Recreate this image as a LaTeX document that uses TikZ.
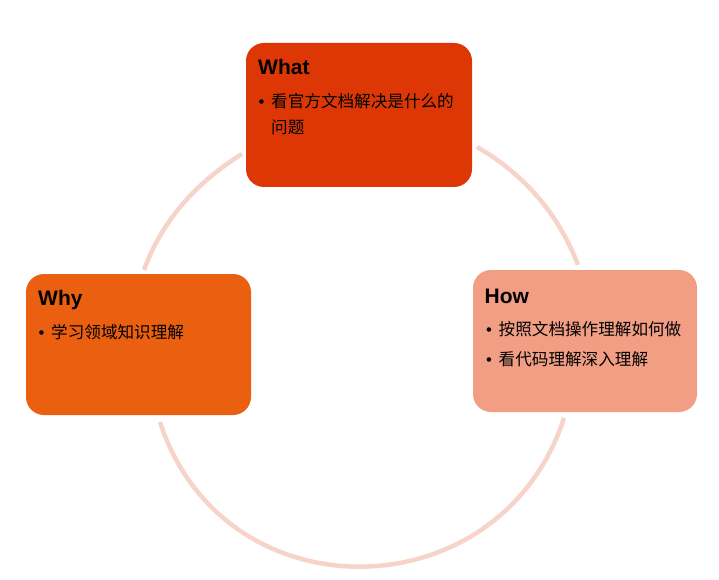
\documentclass[tikz,border=0pt]{standalone}
\usepackage{fontspec}
\setmainfont{Liberation Sans}
\newfontfamily\cjkfont{Noto Sans CJK SC}
\usepackage{enumitem}
\setlist[itemize]{label={\rmfamily\textbullet}, leftmargin=12.5pt, labelwidth=12.5pt,
  labelsep=0pt, align=left, topsep=0pt, partopsep=0pt, itemsep=5pt, parsep=0pt}

\definecolor{whatred}{RGB}{221,55,5}
\definecolor{whyorange}{RGB}{235,95,16}
\definecolor{howpeach}{RGB}{242,158,133}
\definecolor{ringpink}{RGB}{247,212,201}

\begin{document}
\begin{tikzpicture}
[x=1pt, y=1pt,
 card/.style={rectangle, rounded corners=18pt, inner sep=0pt},
 title/.style={anchor=base west, inner sep=0pt, font={\bfseries\fontsize{21}{25}\selectfont}},
 items/.style={anchor=base west, inner sep=0pt, text width=205pt,
   font={\cjkfont\fontsize{16.6}{25.5}\selectfont}},
 ring/.style={draw=ringpink, line width=4.5pt}]
\useasboundingbox[fill=white] (0,0) rectangle (719,579);

\coordinate (whatw) at (242,425);
\coordinate (whyn) at (144,309);
\coordinate (whys) at (160,157);
\coordinate (hows) at (564,161);
\coordinate (hown) at (578,314);
\coordinate (whate) at (477,432);

\draw[ring] (whatw) to [out=212, in=70, looseness=0.9] (whyn);
\draw[ring] (whys) to [out=-72, in=252, looseness=1.3] (hows);
\draw[ring] (whate) to [out=-30, in=111, looseness=0.9] (hown);

\node (what) at (359,464) [card, fill=whatred, minimum width=226pt, minimum height=144pt] {};
\node (how) at (585,238) [card, fill=howpeach, minimum width=224pt, minimum height=142pt] {};
\node (why) at (138.5,234.5) [card, fill=whyorange, minimum width=225pt, minimum height=141pt] {};

\node (whatT) at (258,504) [title] {What};
\node (howT) at (484.5,276) [title] {How};
\node (whyT) at (38,274) [title] {Why};

% the first line of a text width node is empty, so the lists sit one line higher
\node (whatL) at (258.5,496.5) [items]
{
  \begin{itemize}
    \item 看官方文档解决是什么的\\问题
  \end{itemize}
};
\node (howL) at (486,269.5) [items]
{
  \begin{itemize}
    \item 按照文档操作理解如何做
    \item 看代码理解深入理解
  \end{itemize}
};
\node (whyL) at (38.5,266.5) [items]
{
  \begin{itemize}
    \item 学习领域知识理解
  \end{itemize}
};
\end{tikzpicture}
\end{document}
